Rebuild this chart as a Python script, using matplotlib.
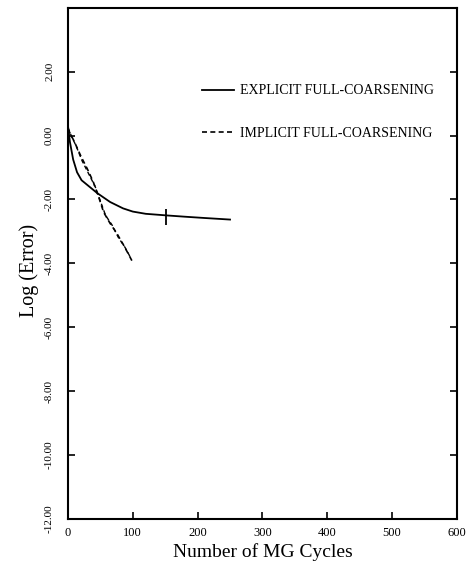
import numpy as np
import matplotlib
matplotlib.use('Agg')
from matplotlib import pyplot as plt
from matplotlib.ticker import FuncFormatter

# values
explicit_x = [0, 3, 8, 14, 21, 30, 45, 65, 85, 100, 120, 152, 180, 210, 250]
explicit_y = [0.3, -0.2, -0.75, -1.15, -1.4, -1.55, -1.8, -2.08, -2.28, -2.38, -2.45, -2.5, -2.54, -2.58, -2.63]

implicit_x = [0, 5, 10, 20, 30, 39, 47, 55, 65, 75, 85, 93, 100]
implicit_y = [0.2, 0.0, -0.2, -0.65, -1.05, -1.45, -1.9, -2.4, -2.75, -3.05, -3.4, -3.7, -3.97]
implicit2_x = [0, 6, 12, 22, 32, 42, 50, 58, 68, 78, 88, 96]
implicit2_y = [0.25, -0.05, -0.3, -0.8, -1.2, -1.6, -2.05, -2.5, -2.8, -3.2, -3.5, -3.8]

mark_x = [152]
mark_y = [-2.55]

x_ticks = [0, 100, 200, 300, 400, 500, 600]
y_ticks = [2, 0, -2, -4, -6, -8, -10, -12]

plt.rcParams['font.family'] = ['Liberation Serif', 'DejaVu Serif']

fig = plt.figure(figsize=(4.72, 5.65), dpi=100)
ax = fig.add_axes([0.144, 0.0814, 0.824, 0.905])

ax.plot(explicit_x, explicit_y, 'k-', lw=1.3, label='EXPLICIT FULL-COARSENING')
ax.plot(implicit_x, implicit_y, 'k--', lw=1.2, dashes=(3, 2), label='IMPLICIT FULL-COARSENING')
ax.plot(implicit2_x, implicit2_y, 'k--', lw=1.0, dashes=(3, 2))
ax.plot(mark_x, mark_y, 'k|', ms=12, mew=1.3)

ax.set_xlim(0, 600)
ax.set_ylim(-12, 4)
ax.set_xticks(x_ticks)
ax.set_yticks(y_ticks)
ax.yaxis.set_major_formatter(FuncFormatter(lambda v, p: ('%.2f' % v)))
ax.tick_params(direction='in', length=5, width=1.2, right=True)
ax.tick_params(axis='x', labelsize=9, pad=6)
ax.tick_params(axis='y', labelsize=8, pad=10)
for lab in ax.get_yticklabels():
    lab.set_rotation(90)
    lab.set_va('center')
for s in ax.spines.values():
    s.set_linewidth(1.5)

ax.set_xlabel('Number of MG Cycles', fontsize=14, labelpad=3)
ax.set_ylabel('Log (Error)', fontsize=14.5)
ax.yaxis.set_label_coords(-0.075, 0.487)

leg = ax.legend(loc='upper left', bbox_to_anchor=(0.345, 0.85), frameon=False,
                fontsize=10, handlelength=2.3, handletextpad=0.4, labelspacing=2.1,
                borderaxespad=0, borderpad=0)

fig.savefig('out.png', dpi=100)
